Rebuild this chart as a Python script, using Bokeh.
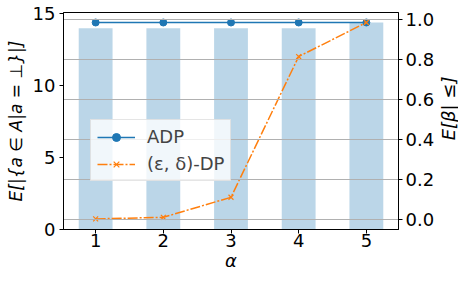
import math
from bokeh.plotting import figure
from bokeh.layouts import row
from bokeh.models import (Range1d, LinearAxis, Grid, FixedTicker, PrintfTickFormatter,
                          Legend, LegendItem, Label)
from bokeh.embed import file_html
from bokeh.resources import INLINE

alphas = [1, 2, 3, 4, 5]
bar_vals = [14.0, 14.0, 14.0, 14.0, 14.4]
adp_vals = [0.985, 0.985, 0.985, 0.985, 0.985]
dp_vals = [0.004, 0.012, 0.112, 0.815, 0.985]
left_ticks = [0, 5, 10, 15]
right_ticks = [0.0, 0.2, 0.4, 0.6, 0.8, 1.0]

FONT = "DejaVu Sans"
FS = "18px"

p = figure(width=438, height=275,
           x_range=Range1d(0.525, 5.475), y_range=Range1d(0, 15.1),
           output_backend="svg", toolbar_location=None,
           min_border_left=63, min_border_right=40, min_border_top=12, min_border_bottom=46)
p.extra_y_ranges = {"right": Range1d(-0.049, 1.035)}

p.outline_line_color = "black"
p.outline_line_width = 1
p.outline_line_alpha = 1
p.xgrid.visible = False
p.ygrid.visible = False

bars = p.vbar(x=alphas, top=bar_vals, width=0.5, fill_color="#1f77b4", fill_alpha=0.3,
              line_color=None, level="underlay")

raxis = LinearAxis(y_range_name="right", ticker=FixedTicker(ticks=right_ticks),
                   formatter=PrintfTickFormatter(format="%.1f"))
p.add_layout(raxis, "right")

g = Grid(dimension=1, ticker=raxis.ticker, y_range_name="right",
         grid_line_color="#b0b0b0", grid_line_width=1, level="glyph")
p.add_layout(g, "center")

l1 = p.line(alphas, adp_vals, y_range_name="right", line_color="#1f77b4", line_width=1.5)
s1 = p.scatter(alphas, adp_vals, y_range_name="right", marker="circle", size=7,
               fill_color="#1f77b4", line_color="#1f77b4")
l2 = p.line(alphas, dp_vals, y_range_name="right", line_color="#ff7f0e", line_width=1.5,
            line_dash="10 2 2 2")
s2 = p.scatter(alphas, dp_vals, y_range_name="right", marker="x", size=7,
               line_color="#ff7f0e", line_width=1.2)

p.xaxis.ticker = FixedTicker(ticks=alphas)
p.yaxis[0].ticker = FixedTicker(ticks=left_ticks)
p.xaxis.axis_label = "α"
p.yaxis[0].axis_label = "E[|{a ∈ A|a = ⊥}|]"

for ax in [p.xaxis[0], p.yaxis[0], raxis]:
    ax.major_label_text_font = FONT
    ax.major_label_text_font_size = FS
    ax.major_label_text_color = "black"
    ax.axis_label_text_font = FONT
    ax.axis_label_text_font_size = FS
    ax.axis_label_text_font_style = "italic"
    ax.axis_label_text_color = "black"
    ax.major_tick_out = 4
    ax.major_tick_in = 0
    ax.minor_tick_out = 0
    ax.minor_tick_in = 0
    ax.axis_line_color = "black"
    ax.major_tick_line_color = "black"
    ax.major_label_standoff = 3
    ax.axis_label_standoff = 4

p.xaxis[0].major_label_standoff = 0
p.xaxis[0].axis_label_standoff = 0
p.yaxis[0].major_label_standoff = 4
p.yaxis[0].axis_label_text_font_size = "17px"

legend = Legend(items=[LegendItem(label="ADP", renderers=[l1, s1]),
                       LegendItem(label="(ε, δ)-DP", renderers=[l2, s2])],
                location=(27, 48), label_text_font=FONT, label_text_font_size=FS,
                background_fill_color="white", background_fill_alpha=0.8,
                border_line_color="#cccccc", border_line_width=1,
                glyph_width=38, glyph_height=20, spacing=6, padding=6,
                label_standoff=12, margin=0)
p.add_layout(legend, "center")

# narrow side figure carrying the right-hand axis title (reads bottom to top)
q = figure(width=20, height=275, x_range=Range1d(0, 1), y_range=Range1d(0, 1),
           output_backend="svg", toolbar_location=None, x_axis_type=None, y_axis_type=None,
           min_border_left=0, min_border_right=0, min_border_top=0, min_border_bottom=0)
q.outline_line_color = None
q.xgrid.visible = False
q.ygrid.visible = False
q.add_layout(Label(x=0.5, y=0.558, text="E[β| ≤]", angle=math.pi / 2,
                   text_align="center", text_baseline="middle",
                   text_font=FONT, text_font_size="18px", text_font_style="italic",
                   text_color="black"))

layout = row(p, q, spacing=0)
open("out.html", "w").write(file_html(layout, INLINE))
